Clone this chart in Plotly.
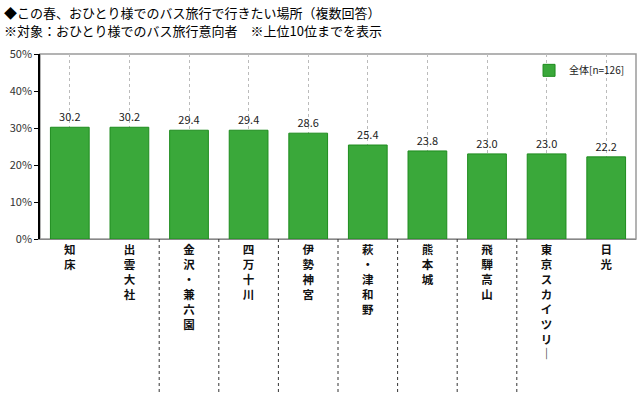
import plotly.graph_objects as go

categories = ["知床", "出雲大社", "金沢・兼六園", "四万十川", "伊勢神宮",
              "萩・津和野", "熊本城", "飛騨高山", "東京スカイツリー", "日光"]
values = [30.2, 30.2, 29.4, 29.4, 28.6, 25.4, 23.8, 23.0, 23.0, 22.2]
series_name = "全体[n=126]"
y_ticks = [0, 10, 20, 30, 40, 50]
y_tick_labels = ["0%", "10%", "20%", "30%", "40%", "50%"]
title_lines = ["◆この春、おひとり様でのバス旅行で行きたい場所（複数回答）",
               "※対象：おひとり様でのバス旅行意向者　※上位10位までを表示"]
# indices of category boundaries that have dark separators below the axis
separator_after = [1, 2, 3, 4, 5, 6, 7]

FONT = "Noto Sans CJK JP"
GREEN = "#3aa83a"
EDGE = "#1e8c1e"


def vertical(s):
    return "<b>" + "<br>".join("｜" if c == "ー" else c for c in s) + "</b>"


x_idx = list(range(len(categories)))

fig = go.Figure()
fig.add_trace(go.Bar(
    x=x_idx, y=values, name=series_name,
    marker=dict(color=GREEN, line=dict(color=EDGE, width=1)),
    width=0.65,
    text=[f"{v:.1f}" for v in values], textposition="outside",
    textfont=dict(size=11, color="#222", family=FONT),
    cliponaxis=False,
))

shapes = []
for i in separator_after:
    shapes.append(dict(type="line", xref="x", yref="paper",
                       x0=i + 0.5, x1=i + 0.5, y0=0, y1=-0.84,
                       line=dict(color="#333", width=1, dash="dot")))
# plot frame (top and right gray)
shapes.append(dict(type="rect", xref="paper", yref="paper", x0=0, x1=1, y0=0, y1=1,
                   line=dict(color="#9a9a9a", width=1.5), layer="below"))

annotations = []
for text, ypix in zip(title_lines, [12, 31]):
    annotations.append(dict(text=text, x=-38 / 596.0, y=(239 - ypix) / 185.0,
                            xref="paper", yref="paper", showarrow=False,
                            xanchor="left", yanchor="middle",
                            font=dict(size=13, color="#000", family=FONT)))

fig.update_layout(
    width=640, height=394,
    margin=dict(l=40, r=4, t=54, b=155),
    paper_bgcolor="white", plot_bgcolor="white",
    font=dict(family=FONT, color="#222"),
    showlegend=True,
    legend=dict(x=0.99, y=0.99, xanchor="right", yanchor="top",
                bgcolor="rgba(0,0,0,0)", font=dict(size=10, family=FONT, color="#222"),
                itemwidth=30),
    xaxis=dict(
        range=[-0.5, len(categories) - 0.5],
        tickmode="array", tickvals=x_idx,
        ticktext=[vertical(c) for c in categories],
        tickfont=dict(size=11.5, color="#111", family=FONT),
        tickson="boundaries",
        showgrid=True, gridcolor="#bbbbbb", griddash="dot", gridwidth=1,
        showline=True, linecolor="#888", linewidth=1,
        ticks="", tickangle=0,
    ),
    yaxis=dict(
        range=[0, 50], tickmode="array", tickvals=y_ticks, ticktext=y_tick_labels,
        showgrid=False, zeroline=False,
        showline=True, linecolor="#000", linewidth=1.5,
        ticks="outside", ticklen=4, tickcolor="#000",
        tickfont=dict(size=11, color="#333", family=FONT),
    ),
    shapes=shapes,
    annotations=annotations,
)

fig.write_html("out.html", config={"displayModeBar": False},
               post_script="document.body.style.margin='0';")
